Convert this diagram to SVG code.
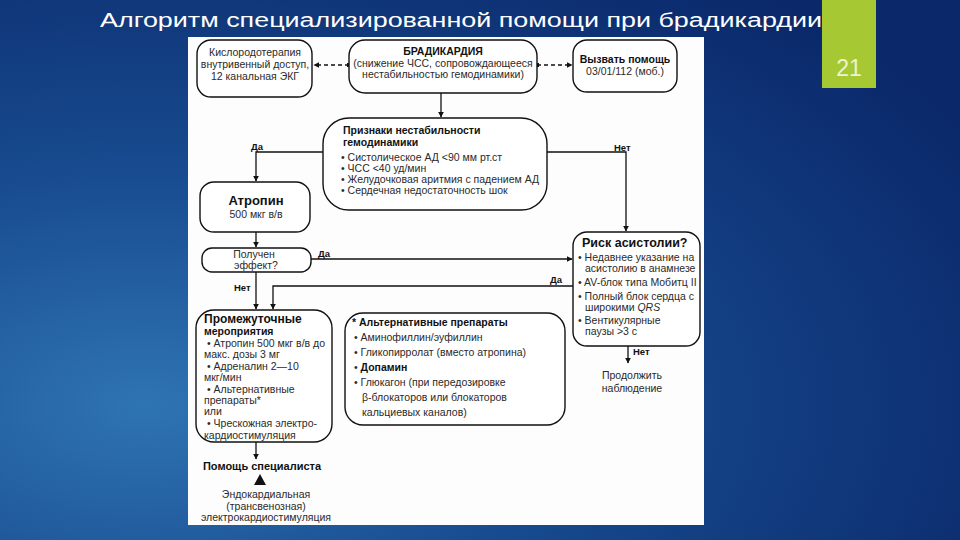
<svg xmlns="http://www.w3.org/2000/svg" width="960" height="540" viewBox="0 0 960 540">
<defs>
<radialGradient id="bg" cx="0.15" cy="0.75" r="1.0">
<stop offset="0" stop-color="#2f74b2"/>
<stop offset="0.45" stop-color="#174a8e"/>
<stop offset="1" stop-color="#0a286a"/>
</radialGradient>
<marker id="arr" viewBox="0 0 10 10" refX="9" refY="5" markerWidth="6" markerHeight="6" orient="auto" markerUnits="userSpaceOnUse">
<path d="M0,0 L10,5 L0,10 z" fill="#111"/>
</marker>
<marker id="dot" viewBox="0 0 10 10" refX="5" refY="5" markerWidth="4" markerHeight="4" orient="auto" markerUnits="userSpaceOnUse">
<rect x="0" y="0" width="10" height="10" fill="#111"/>
</marker>
<style>
.box{fill:#fff;stroke:#111;stroke-width:1.4}
.t{font-family:"Liberation Sans",Arial,sans-serif;font-size:10.5px;fill:#2a2a2a}
.b{font-family:"Liberation Sans",Arial,sans-serif;font-weight:bold;fill:#111}
.c{text-anchor:middle}
.ln{fill:none;stroke:#111;stroke-width:1.3}
.dash{fill:none;stroke:#111;stroke-width:1.5;stroke-dasharray:4 3}
</style>
</defs>
<rect width="960" height="540" fill="url(#bg)"/>
<text x="100" y="27" font-family="'Liberation Sans',Arial,sans-serif" font-size="20" fill="#fff" textLength="722" lengthAdjust="spacingAndGlyphs">Алгоритм специализированной помощи при брадикардии</text>
<rect x="822" y="0" width="54" height="88" fill="#a6c832"/>
<text x="849" y="76" font-family="'Liberation Sans',Arial,sans-serif" font-size="23" fill="#eef3d0" text-anchor="middle">21</text>
<rect x="188" y="37" width="516" height="488" fill="#fdfdfd"/>

<g id="connectors">
<line class="dash" x1="349" y1="65" x2="314" y2="65" marker-start="url(#dot)" marker-end="url(#arr)"/>
<line class="dash" x1="537" y1="65" x2="572" y2="65" marker-start="url(#dot)" marker-end="url(#arr)"/>
<line class="ln" x1="441" y1="93" x2="441" y2="117" marker-end="url(#arr)"/>
<polyline class="ln" points="323,152 256,152 256,181" marker-end="url(#arr)"/>
<text class="b" x="251" y="150" font-size="9.5">Да</text>
<polyline class="ln" points="547,152 626,152 626,231" marker-end="url(#arr)"/>
<text class="b" x="614" y="151" font-size="9.5">Нет</text>
<line class="ln" x1="256" y1="232" x2="256" y2="247" marker-end="url(#arr)"/>
<line class="ln" x1="311" y1="259" x2="572" y2="259" marker-end="url(#arr)" stroke="#555" stroke-width="1"/>
<text class="b" x="318" y="257" font-size="9.5">Да</text>
<line class="ln" x1="256" y1="272" x2="256" y2="309" marker-end="url(#arr)"/>
<text class="b" x="234" y="291" font-size="9.5">Нет</text>
<polyline class="ln" points="573,286 273,286 273,309" marker-end="url(#arr)"/>
<text class="b" x="550" y="283" font-size="9.5">Да</text>
<line class="ln" x1="628" y1="346" x2="628" y2="363" marker-end="url(#arr)"/>
<text class="b" x="633" y="355" font-size="9.5">Нет</text>
<line class="ln" x1="256" y1="442" x2="256" y2="459" marker-end="url(#arr)"/>
</g>

<g id="oxygen">
<rect class="box" x="197" y="40" width="115" height="57" rx="14"/>
<text class="t c" x="255" y="56">Кислородотерапия</text>
<text class="t c" x="255" y="68">внутривенный доступ,</text>
<text class="t c" x="255" y="80">12 канальная ЭКГ</text>
</g>

<g id="brady">
<rect class="box" x="349" y="40" width="188" height="53" rx="16"/>
<text class="b c" x="443" y="55" font-size="10.5">БРАДИКАРДИЯ</text>
<text class="t c" x="443" y="67">(снижение ЧСС, сопровождающееся</text>
<text class="t c" x="443" y="78">нестабильностью гемодинамики)</text>
</g>

<g id="callhelp">
<rect class="box" x="573" y="40" width="104" height="52" rx="14"/>
<text class="b c" x="625" y="63" font-size="10.5">Вызвать помощь</text>
<text class="t c" x="625" y="75">03/01/112 (моб.)</text>
</g>

<g id="instability">
<rect class="box" x="323" y="118" width="224" height="92" rx="26"/>
<text class="b" x="343" y="134" font-size="10.5">Признаки нестабильности</text>
<text class="b" x="343" y="146" font-size="10.5">гемодинамики</text>
<text class="t" x="341" y="161">• Систолическое АД &lt;90 мм рт.ст</text>
<text class="t" x="341" y="172">• ЧСС &lt;40 уд/мин</text>
<text class="t" x="341" y="183">• Желудочковая аритмия с падением АД</text>
<text class="t" x="341" y="194">• Сердечная недостаточность шок</text>
</g>

<g id="atropine">
<rect class="box" x="200" y="182" width="110" height="50" rx="14"/>
<text class="b c" x="256" y="205" font-size="13">Атропин</text>
<text class="t c" x="256" y="218">500 мкг в/в</text>
</g>

<g id="effect">
<rect class="box" x="202" y="248" width="109" height="24" rx="10"/>
<text class="t c" x="254" y="258">Получен</text>
<text class="t c" x="256" y="269">эффект?</text>
</g>

<g id="risk">
<rect class="box" x="573" y="232" width="127" height="114" rx="14"/>
<text class="b" x="582" y="247" font-size="12.5">Риск асистолии?</text>
<text class="t" x="578" y="261">• Недавнее указание на</text>
<text class="t" x="585" y="272">асистолию в анамнезе</text>
<text class="t" x="578" y="286">• AV-блок типа Мобитц II</text>
<text class="t" x="578" y="300">• Полный блок сердца с</text>
<text class="t" x="585" y="311">широкими <tspan font-style="italic">QRS</tspan></text>
<text class="t" x="578" y="324">• Вентикулярные</text>
<text class="t" x="585" y="335">паузы &gt;3 с</text>
</g>

<g id="observe">
<text class="t c" x="632" y="379" font-size="11.5">Продолжить</text>
<text class="t c" x="632" y="392" font-size="11.5">наблюдение</text>
</g>

<g id="intermediate">
<rect class="box" x="196" y="310" width="136" height="132" rx="18"/>
<text class="b" x="204" y="323" font-size="12">Промежуточные</text>
<text class="b" x="204" y="335" font-size="10.5">мероприятия</text>
<text class="t" x="207" y="347">• Атропин 500 мкг в/в до</text>
<text class="t" x="204" y="358">макс. дозы 3 мг</text>
<text class="t" x="207" y="370">• Адреналин 2—10</text>
<text class="t" x="204" y="381">мкг/мин</text>
<text class="t" x="207" y="393">• Альтернативные</text>
<text class="t" x="204" y="404">препараты*</text>
<text class="t" x="204" y="415">или</text>
<text class="t" x="207" y="427">• Чрескожная электро-</text>
<text class="t" x="204" y="439">кардиостимуляция</text>
</g>

<g id="alternative">
<rect class="box" x="345" y="313" width="220" height="112" rx="18"/>
<text class="b" x="352" y="326" font-size="10.5">* Альтернативные препараты</text>
<text class="t" x="354" y="341">• Аминофиллин/эуфиллин</text>
<text class="t" x="354" y="356">• Гликопирролат (вместо атропина)</text>
<text class="t" x="354" y="371">• <tspan font-weight="bold" fill="#111">Допамин</tspan></text>
<text class="t" x="354" y="386">• Глюкагон (при передозировке</text>
<text class="t" x="362" y="401">β-блокаторов или блокаторов</text>
<text class="t" x="362" y="416">кальциевых каналов)</text>
</g>

<g id="specialist">
<text class="b c" x="262" y="470" font-size="11">Помощь специалиста</text>
<polygon points="260,474 266,485 254,485" fill="#111"/>
<text class="t c" x="266" y="498">Эндокардиальная</text>
<text class="t c" x="266" y="510">(трансвенозная)</text>
<text class="t c" x="266" y="521">электрокардиостимуляция</text>
</g>
</svg>
